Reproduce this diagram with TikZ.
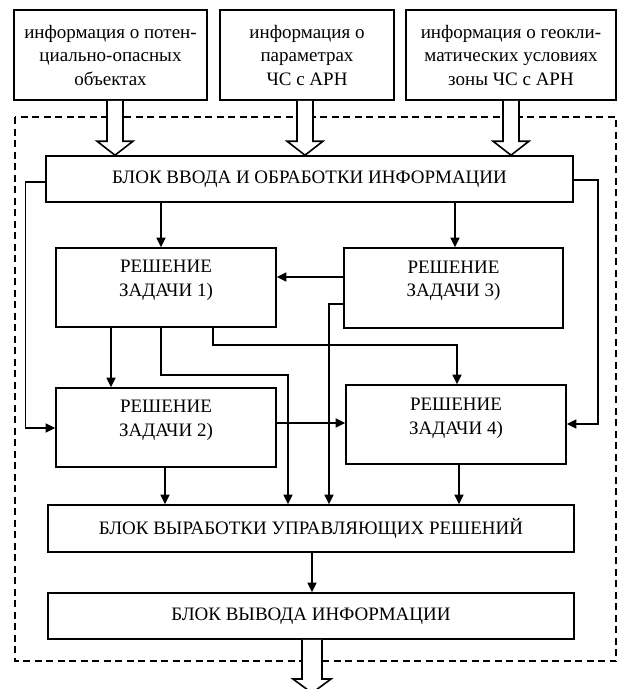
\documentclass[tikz,border=0pt]{standalone}
\usepackage{fontspec}
\setmainfont{Liberation Serif}
\usetikzlibrary{arrows.meta,calc}
\tikzset{
  blk/.style={draw, line width=1.6pt, inner sep=0pt, align=center},
  arr/.style={line width=1.4pt, -{Triangle[length=9.5pt,width=9pt]}},
  fat/.style 2 args={line width=1.6pt, fill=white, to path={
    ($(\tikztostart)+(-#1,0)$) -- ($(\tikztotarget)+(-#1,-14)$) -- ($(\tikztotarget)+(-#2,-14)$)
    -- (\tikztotarget) -- ($(\tikztotarget)+(#2,-14)$) -- ($(\tikztotarget)+(#1,-14)$) -- ($(\tikztostart)+(#1,0)$)}},
}
\begin{document}
\begin{tikzpicture}[x=1pt, y=-1pt, font=\fontsize{19}{23.5}\selectfont]
\useasboundingbox (0,0) rectangle (618,689);
\node[blk, minimum width=193pt, minimum height=90pt] (b1) at (110.5,55) {информация о потен-\\циально-опасных\\объектах};
\node[blk, minimum width=174pt, minimum height=90pt] (b2) at (307,55) {информация о\\параметрах\\ЧС с АРН};
\node[blk, minimum width=210pt, minimum height=90pt] (b3) at (511,55) {информация о геокли-\\матических условиях\\зоны ЧС с АРН};
\draw[line width=1.3pt, dash pattern=on 7pt off 4.5pt] (15,117) rectangle (616,661);
\node[blk, minimum width=527pt, minimum height=46pt] (in) at (309.5,179) {БЛОК ВВОДА И ОБРАБОТКИ ИНФОРМАЦИИ};
\draw[fat={8}{18}] ([xshift=4.5pt]b1.south) to ([xshift=4.5pt]b1.south |- in.north);
\draw[fat={8}{18}] ([xshift=-2pt]b2.south) to ([xshift=-2pt]b2.south |- in.north);
\draw[fat={8}{18}] (b3.south) to (b3.south |- in.north);
\node[blk, minimum width=220pt, minimum height=79pt] (r1) at (166,287.5) {};
\node[align=center] (r1t) at ([yshift=7pt]r1.center) {РЕШЕНИЕ\\ЗАДАЧИ 1)};
\node[blk, minimum width=219pt, minimum height=80pt] (r3) at (453.5,288) {};
\node[align=center] (r3t) at ([yshift=7pt]r3.center) {РЕШЕНИЕ\\ЗАДАЧИ 3)};
\node[blk, minimum width=220pt, minimum height=79pt] (r2) at (166,427.5) {};
\node[align=center] (r2t) at ([yshift=7pt]r2.center) {РЕШЕНИЕ\\ЗАДАЧИ 2)};
\node[blk, minimum width=220pt, minimum height=79pt] (r4) at (456,424.5) {};
\node[align=center] (r4t) at ([yshift=6pt]r4.center) {РЕШЕНИЕ\\ЗАДАЧИ 4)};
\node[blk, minimum width=526pt, minimum height=47pt] (ctl) at (311,528.5) {БЛОК ВЫРАБОТКИ УПРАВЛЯЮЩИХ РЕШЕНИЙ};
\node[blk, minimum width=526pt, minimum height=46pt] (out) at (311,616) {БЛОК ВЫВОДА ИНФОРМАЦИИ};
\coordinate (exit) at (312,693);
\draw[arr] (in.south -| 161,0) -- (r1.north -| 161,0);
\draw[arr] (in.south -| 455,0) -- (r3.north -| 455,0);
\draw[arr] (r3.west |- 0,277) -- (r1.east |- 0,277);
\draw[arr] (r3.west |- 0,304) -| (ctl.north -| 329,0);
\draw[arr] (r1.south -| 111,0) -- (r2.north -| 111,0);
\draw[arr] (r1.south -| 161,0) -- ++(0,47) -| (ctl.north -| 288,0);
\draw[arr] (r1.south -| 213,0) -- ++(0,17) -| (r4.north -| 457,0);
\draw[arr] (in.west |- 0,182) -- ++(-20,0) |- (r2.west |- 0,428);
\draw[arr] (in.east |- 0,180) -- ++(24,0) |- (r4.east |- 0,424);
\draw[arr] (r2.east |- 0,423) -- (r4.west |- 0,423);
\draw[arr] (r2.south -| 165,0) -- (ctl.north -| 165,0);
\draw[arr] (r4.south -| 459,0) -- (ctl.north -| 459,0);
\draw[arr] (ctl.south -| 312,0) -- (out.north -| 312,0);
\draw[fat={10}{19}] ([xshift=1pt]out.south) to (exit);
\end{tikzpicture}
\end{document}
